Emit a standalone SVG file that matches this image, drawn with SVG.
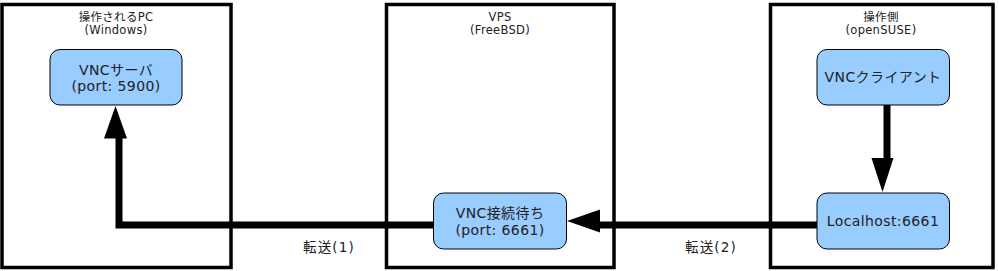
<svg xmlns="http://www.w3.org/2000/svg" width="999" height="271" viewBox="0 0 999 271">
<style>
text{font-family:"DejaVu Sans","Noto Sans CJK JP",sans-serif;fill:#222;text-anchor:middle}
.cont{fill:#fff;stroke:#000;stroke-width:3.5}
.title{font-size:11.5px;letter-spacing:0.3px}
.node rect{fill:#99ccff;stroke:#000;stroke-width:1}
.node text{font-size:14px;letter-spacing:0.4px}
.edge{fill:none;stroke:#000;stroke-width:7}
.head{fill:#000}
.lbl{font-size:13.5px;letter-spacing:1.2px}
</style>
<rect width="999" height="271" fill="#fff"/>
<g id="pc">
<rect class="cont" x="2" y="4.5" width="229" height="263"/>
<text class="title" x="116" y="21">操作されるPC</text>
<text class="title" x="116" y="34">(Windows)</text>
</g>
<g id="vps">
<rect class="cont" x="386.5" y="4.5" width="227.5" height="263"/>
<text class="title" x="500" y="21">VPS</text>
<text class="title" x="500" y="34">(FreeBSD)</text>
</g>
<g id="ops">
<rect class="cont" x="770.5" y="4.5" width="222.5" height="263"/>
<text class="title" x="881" y="21">操作側</text>
<text class="title" x="881" y="34">(openSUSE)</text>
</g>
<g id="vncserver" class="node">
<rect x="50" y="49.5" width="132" height="55.5" rx="10"/>
<text x="116" y="75">VNCサーバ</text>
<text x="116" y="91">(port: 5900)</text>
</g>
<g id="vncwait" class="node">
<rect x="433.5" y="193" width="133" height="56" rx="10"/>
<text x="500" y="218">VNC接続待ち</text>
<text x="500" y="235">(port: 6661)</text>
</g>
<g id="vncclient" class="node">
<rect x="817" y="49.5" width="132.5" height="55.5" rx="10"/>
<text x="883" y="82">VNCクライアント</text>
</g>
<g id="localhost" class="node">
<rect x="817" y="193" width="132.5" height="56" rx="10"/>
<text x="883" y="226">Localhost:6661</text>
</g>
<g id="connectors">
<path class="edge" d="M887 105 V160"/>
<polygon class="head" points="871.5,158 893.5,158 882.5,192"/>
<path class="edge" d="M817 225 H598"/>
<polygon class="head" points="600,209.5 600,232.5 567,221"/>
<path class="edge" d="M433.5 225 H119 V136"/>
<polygon class="head" points="104,138.5 127,138.5 115.5,106"/>
</g>
<text class="lbl" x="329" y="252">転送(1)</text>
<text class="lbl" x="711" y="252">転送(2)</text>
</svg>
